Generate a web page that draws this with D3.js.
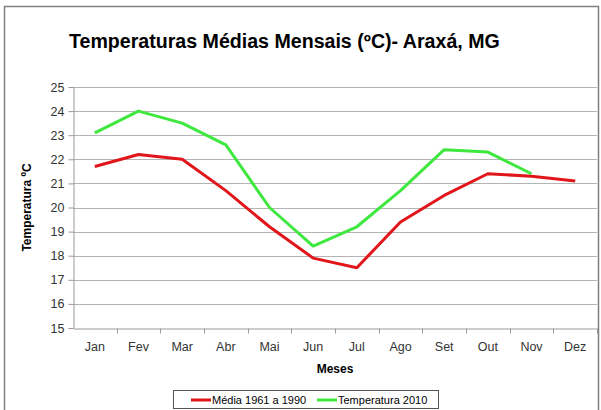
<!DOCTYPE html>
<meta charset="utf-8">
<style>
body { margin: 0; background: #fff; font-family: "Liberation Sans", Arial, sans-serif; }
.tick text { fill: #333; }
</style>
<body>
<svg width="601" height="410"></svg>
<script src="https://d3js.org/d3.v7.min.js"></script>
<script>
// monthly averages
var meses = ["Jan", "Fev", "Mar", "Abr", "Mai", "Jun", "Jul", "Ago", "Set", "Out", "Nov", "Dez"];
var media6190 = [21.7, 22.2, 22.0, 20.7, 19.2, 17.9, 17.5, 19.4, 20.5, 21.4, 21.3, 21.1];
var temp2010 = [23.1, 24.0, 23.5, 22.6, 20.0, 18.4, 19.2, 20.7, 22.4, 22.3, 21.4, null];
var yTicks = [15, 16, 17, 18, 19, 20, 21, 22, 23, 24, 25];

var svg = d3.select("svg"),
    margin = {top: 87, right: 4, bottom: 82, left: 73},
    width = +svg.attr("width") - margin.left - margin.right,
    height = +svg.attr("height") - margin.top - margin.bottom;

// outer frame
svg.append("rect")
  .attr("x", 4.5).attr("y", 6.5)
  .attr("width", 594).attr("height", 410)
  .attr("fill", "none").attr("stroke", "#7f7f7f").attr("stroke-width", 1.5);

svg.append("text")
  .attr("x", 69).attr("y", 48)
  .attr("font-size", 19.6).attr("font-weight", "bold")
  .text("Temperaturas Médias Mensais (ºC)- Araxá, MG");

var g = svg.append("g").attr("transform", "translate(" + margin.left + "," + margin.top + ")");

var x = d3.scaleBand().domain(meses).range([0, width]);
var y = d3.scaleLinear().domain([15, 25]).range([height, 0]);

// grid
g.append("g")
  .selectAll("line")
  .data(yTicks.slice(1))
  .enter().append("line")
  .attr("x1", 0).attr("x2", width)
  .attr("y1", function(d) { return Math.round(y(d)) + 0.5; })
  .attr("y2", function(d) { return Math.round(y(d)) + 0.5; })
  .attr("stroke", "#b4b4b4");

var yAxis = g.append("g")
  .attr("transform", "translate(0.5,0)")
  .call(d3.axisLeft(y).tickValues(yTicks).tickSize(5).tickPadding(4).tickSizeOuter(0));
yAxis.selectAll("text").attr("font-size", 12.5).attr("font-family", "Liberation Sans, Arial");
yAxis.selectAll("line, path").attr("stroke", "#999");

var xAxis = g.append("g")
  .attr("transform", "translate(0," + (Math.round(height) + 0.5) + ")")
  .call(d3.axisBottom(x).tickSize(0).tickPadding(14));
xAxis.selectAll("text").attr("font-size", 12.5).attr("font-family", "Liberation Sans, Arial");
xAxis.select(".domain").attr("stroke", "#999");
// category boundary ticks
xAxis.selectAll(".sep")
  .data(meses)
  .enter().append("line")
  .attr("class", "sep")
  .attr("x1", function(d) { return Math.round(x(d) + x.bandwidth()) + 0.5; })
  .attr("x2", function(d) { return Math.round(x(d) + x.bandwidth()) + 0.5; })
  .attr("y1", 0).attr("y2", 5)
  .attr("stroke", "#999");

svg.append("text")
  .attr("transform", "translate(31," + (margin.top + height / 2) + ") rotate(-90)")
  .attr("text-anchor", "middle")
  .attr("font-size", 12).attr("font-weight", "bold")
  .text("Temperatura ºC");

svg.append("text")
  .attr("x", margin.left + width / 2).attr("y", 373)
  .attr("text-anchor", "middle")
  .attr("font-size", 12).attr("font-weight", "bold")
  .text("Meses");

var line = d3.line()
  .defined(function(d) { return d != null; })
  .x(function(d, i) { return x(meses[i]) + x.bandwidth() / 2; })
  .y(function(d) { return y(d); });

g.append("path").datum(media6190)
  .attr("d", line).attr("fill", "none")
  .attr("stroke", "#e0161b").attr("stroke-width", 3).attr("stroke-linejoin", "round");

g.append("path").datum(temp2010)
  .attr("d", line).attr("fill", "none")
  .attr("stroke", "#3ee83e").attr("stroke-width", 3).attr("stroke-linejoin", "round");

// legend
var leg = svg.append("g");
leg.append("rect")
  .attr("x", 173.5).attr("y", 390.5).attr("width", 265).attr("height", 18)
  .attr("fill", "#fff").attr("stroke", "#555");
var items = [{name: "Média 1961 a 1990", color: "#e0161b", x: 191}, {name: "Temperatura 2010", color: "#3ee83e", x: 317}];
items.forEach(function(it) {
  leg.append("line")
    .attr("x1", it.x).attr("x2", it.x + 20).attr("y1", 400).attr("y2", 400)
    .attr("stroke", it.color).attr("stroke-width", 3);
  leg.append("text")
    .attr("x", it.x + 21).attr("y", 404)
    .attr("font-size", 11)
    .text(it.name);
});
</script>
</body>
